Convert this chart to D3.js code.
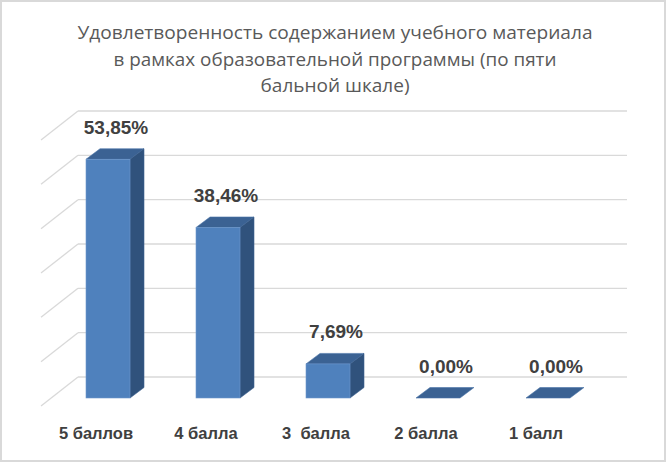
<!DOCTYPE html>
<html>
<head>
<meta charset="utf-8">
<script src="https://cdn.jsdelivr.net/npm/d3@7"></script>
<style>
  html, body { margin: 0; padding: 0; background: #ffffff; }
  svg { display: block; }
</style>
</head>
<body>
<svg id="chart" width="671" height="463"></svg>
<script>
// ---- data ----
const titleLines = [
  "Удовлетворенность содержанием учебного материала",
  "в рамках образовательной программы (по пяти",
  "бальной шкале)"
];
const categories = ["5 баллов", "4 балла", "3  балла", "2 балла", "1 балл"];
const values = [53.85, 38.46, 7.69, 0.00, 0.00];
const yTicks = [0, 10, 20, 30, 40, 50, 60];

// ---- layout ----
const W = 671, H = 463;
const svg = d3.select("#chart");

svg.append("rect")
  .attr("x", 1).attr("y", 1).attr("width", 664).attr("height", 460)
  .attr("fill", "#ffffff").attr("stroke", "#d9d9d9").attr("stroke-width", 2);

// title
const titleSizes = [515, 443, 149];
svg.append("g").selectAll("text").data(titleLines).join("text")
  .attr("x", 335)
  .attr("y", (d, i) => 39 + i * 26.5)
  .attr("text-anchor", "middle")
  .attr("font-family", "'Open Sans', 'Liberation Sans', sans-serif")
  .attr("font-size", 18.5)
  .attr("fill", "#595959")
  .attr("textLength", (d, i) => titleSizes[i])
  .attr("lengthAdjust", "spacingAndGlyphs")
  .text(d => d);

// scales
const y = d3.scaleLinear().domain([0, 60]).range([377, 111]);   // back wall
const x = d3.scaleBand().domain(categories).range([53, 603])
  .paddingInner(0.6).paddingOuter(0.3);                         // bar front faces

const wallLeft = 78, wallRight = 627;
const sideDx = -37, sideDy = 29;       // side wall depth
const barFrontDy = 21;                 // bar front face offset from back wall
const depthDx = 14, depthDy = -10.5;   // bar depth

const grid = svg.append("g").attr("stroke", "#d9d9d9").attr("stroke-width", 1.3).attr("fill", "none");
grid.selectAll("line.h").data(yTicks).join("line")
  .attr("class", "h")
  .attr("x1", wallLeft).attr("x2", wallRight)
  .attr("y1", d => y(d)).attr("y2", d => y(d));
grid.selectAll("line.s").data(yTicks).join("line")
  .attr("class", "s")
  .attr("x1", wallLeft).attr("y1", d => y(d))
  .attr("x2", wallLeft + sideDx).attr("y2", d => y(d) + sideDy);

// bars
const data = categories.map((c, i) => ({ c, v: values[i] }));
const bars = svg.append("g").selectAll("g").data(data).join("g");

const fx = d => x(d.c);
const bw = x.bandwidth();
const fTop = d => y(d.v) + barFrontDy;
const fBot = y(0) + barFrontDy;

// top face
bars.append("path")
  .attr("d", d => {
    const x0 = fx(d), t = fTop(d);
    return `M${x0},${t} L${x0 + bw},${t} L${x0 + bw + depthDx},${t + depthDy} L${x0 + depthDx},${t + depthDy} Z`;
  })
  .attr("fill", "#3b6293").attr("stroke", "#4a74a8").attr("stroke-width", 0.6);

// side face
bars.filter(d => d.v > 0).append("path")
  .attr("d", d => {
    const x1 = fx(d) + bw, t = fTop(d);
    return `M${x1},${t} L${x1 + depthDx},${t + depthDy} L${x1 + depthDx},${fBot + depthDy} L${x1},${fBot} Z`;
  })
  .attr("fill", "#30527c").attr("stroke", "#3d6190").attr("stroke-width", 0.6);

// front face
bars.filter(d => d.v > 0).append("rect")
  .attr("x", d => fx(d)).attr("y", d => fTop(d))
  .attr("width", bw).attr("height", d => fBot - fTop(d))
  .attr("fill", "#4f81bd").attr("stroke", "#6f98cc").attr("stroke-width", 0.6);

// data labels
const fmt = v => v.toFixed(2).replace(".", ",") + "%";
svg.append("g").selectAll("text").data(data).join("text")
  .attr("x", d => fx(d) + bw / 2 + 8)
  .attr("y", d => fTop(d) + depthDy - 22 + 7)
  .attr("text-anchor", "middle")
  .attr("font-family", "'Liberation Sans', Arial, sans-serif")
  .attr("font-weight", "bold")
  .attr("font-size", 19)
  .attr("fill", "#404040")
  .text(d => fmt(d.v));

// category labels
svg.append("g").selectAll("text").data(categories).join("text")
  .attr("x", d => x(d) + bw / 2 - 12)
  .attr("y", 439)
  .attr("text-anchor", "middle")
  .attr("font-family", "'Liberation Sans', Arial, sans-serif")
  .attr("font-weight", "bold")
  .attr("font-size", 16.5)
  .attr("fill", "#404040")
  .style("white-space", "pre")
  .attr("xml:space", "preserve")
  .text(d => d);
</script>
</body>
</html>
